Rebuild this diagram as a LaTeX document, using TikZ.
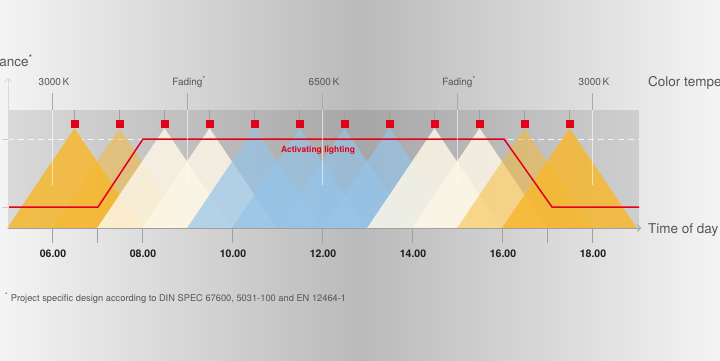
\documentclass[tikz,border=0pt]{standalone}
\usepackage{fontspec}
\setmainfont{TeX Gyre Heros}
\usetikzlibrary{arrows.meta,positioning}
\definecolor{lampred}{RGB}{226,0,26}
\definecolor{warmorange}{RGB}{246,184,48}
\definecolor{neutralcream}{RGB}{252,246,230}
\definecolor{coolblue}{RGB}{150,196,232}
\definecolor{axisgray}{RGB}{160,160,160}
\definecolor{labelgray}{RGB}{85,85,85}
\definecolor{hourdark}{RGB}{30,30,30}
\definecolor{bgedge}{RGB}{244,244,244}
\definecolor{bgmid}{RGB}{186,186,186}
\tikzset{
  lampbox/.style={rectangle,fill=lampred,minimum size=8pt,inner sep=0pt},
  lampstem/.style={draw=axisgray,line width=0.8pt},
  beam/.style={fill=#1,draw=none},
  templabel/.style={font=\fontsize{10}{12}\selectfont,text=labelgray,
    anchor=base,inner sep=0pt},
  hourlabel/.style={font=\fontsize{10.5}{12}\selectfont\bfseries,
    text=hourdark,anchor=base,inner sep=0pt},
  axislabel/.style={font=\fontsize{13.5}{16}\selectfont,text=labelgray,
    inner sep=0pt},
  axisline/.style={draw=#1,line width=0.9pt,
    -{Straight Barb[length=3pt,width=7pt,line width=0.8pt]}},
  tickline/.style={draw=axisgray,line width=0.9pt},
  markline/.style={draw=white,opacity=0.6,line width=1pt},
  activeline/.style={draw=lampred,line width=1.5pt,line join=miter},
}

\begin{document}
\begin{tikzpicture}[x=1pt,y=-1pt]

% ── Canvas and background ────────────────────────────────────────────────
\clip (0,0) rectangle (720,360);
\shade[left color=bgedge,right color=bgedge,middle color=bgmid]
  (0,0) rectangle (720,360);
\fill[black,opacity=0.1] (8,110) rectangle (639,228);

% ── Reference level (dashed) ─────────────────────────────────────────────
\coordinate (dashL) at (8,139);
\coordinate (dashR) at (639,139);
\draw[white,opacity=0.8,line width=0.9pt,dash pattern=on 6pt off 4pt]
  (dashL) -- (dashR);

% ── Luminaires and light cones ───────────────────────────────────────────
\foreach \h/\c/\o [count=\i] in {6.5/warmorange/0.85, 7.5/warmorange/0.5,
    8.5/neutralcream/0.85, 9.5/neutralcream/0.85, 10.5/coolblue/0.7,
    11.5/coolblue/0.7, 12.5/coolblue/0.7, 13.5/coolblue/0.7,
    14.5/neutralcream/0.85, 15.5/neutralcream/0.85, 16.5/warmorange/0.5,
    17.5/warmorange/0.85}
{
  \node[lampbox] (lamp\i) at ({52+(\h-6)*45},124) {};
  \draw[lampstem] (lamp\i.north) -- ++(0,-10);
  \fill[beam=\c,opacity=\o] (lamp\i.south) -- ++(67.5,100) -- ++(-135,0) -- cycle;
}
\foreach \i in {1,...,12}
  \node[lampbox] at (lamp\i) {};

% ── Activating lighting curve ────────────────────────────────────────────
\coordinate (actA) at (8,207);
\coordinate (actB) at (98,207);
\coordinate (actC) at (143,139);
\coordinate (actD) at (504,139);
\coordinate (actE) at (552,207);
\coordinate (actF) at (639,207);
\draw[activeline] (actA) -- (actB) -- (actC) -- (actD) -- (actE) -- (actF);
\node[font=\fontsize{8.5}{10}\selectfont\bfseries,text=lampred,anchor=base,
  inner sep=0pt] (actlbl) at (318,152) {Activating lighting};

% ── Colour temperature marks ─────────────────────────────────────────────
\foreach \h/\t [count=\j] in {6/3000\,K, 9/Fading\textsuperscript{*},
    12/6500\,K, 15/Fading\textsuperscript{*}, 18/3000\,K}
{
  \coordinate (mark\j) at ({52+(\h-6)*45},93);
  \coordinate (markfoot\j) at ({52+(\h-6)*45},185);
  \node[templabel] (temp\j) at ({54+(\h-6)*45},85) {\t};
  \draw[draw=axisgray!90!white,line width=1pt] (mark\j) -- ++(0,17);
  \draw[markline] ([yshift=-17pt]mark\j) -- (markfoot\j);
}

% ── Axes ─────────────────────────────────────────────────────────────────
\coordinate (origin) at (8,228);
\coordinate (ytop) at (8,78);
\coordinate (xend) at (641,228);
\draw[axisline=gray!30] (origin) -- (ytop);
\draw[axisline=axisgray] (origin) -- (xend);
\foreach \y in {139,207}
  \draw[tickline,draw=gray!40] (2,\y) -- (8,\y);
\foreach \h in {6,7,8,10,12,14,16,17,18}
  \draw[tickline] ({52+(\h-6)*45},228) -- ++(0,15);
\foreach \h/\t in {6/06.00, 8/08.00, 10/10.00, 12/12.00, 14/14.00,
    16/16.00, 18/18.00}
  \node[hourlabel] (hour\h) at ({53+(\h-6)*45},257) {\t};

% ── Axis titles ──────────────────────────────────────────────────────────
\node[axislabel,anchor=base east] (ylbl) at (33,66.5)
  {Illuminance\textsuperscript{*}};
\node[axislabel,anchor=base west] (ctlbl) at (648,86) {Color temperature};
\node[axislabel,anchor=base west] (xlbl) at (648,233.5) {Time of day};

% ── Footnote ─────────────────────────────────────────────────────────────
\node[font=\fontsize{9.3}{11}\selectfont,text=labelgray,anchor=base west,
  inner sep=0pt] (note) at (5,301)
  {\textsuperscript{*} Project specific design according to DIN SPEC 67600,
   5031-100 and EN 12464-1};

\end{tikzpicture}
\end{document}
